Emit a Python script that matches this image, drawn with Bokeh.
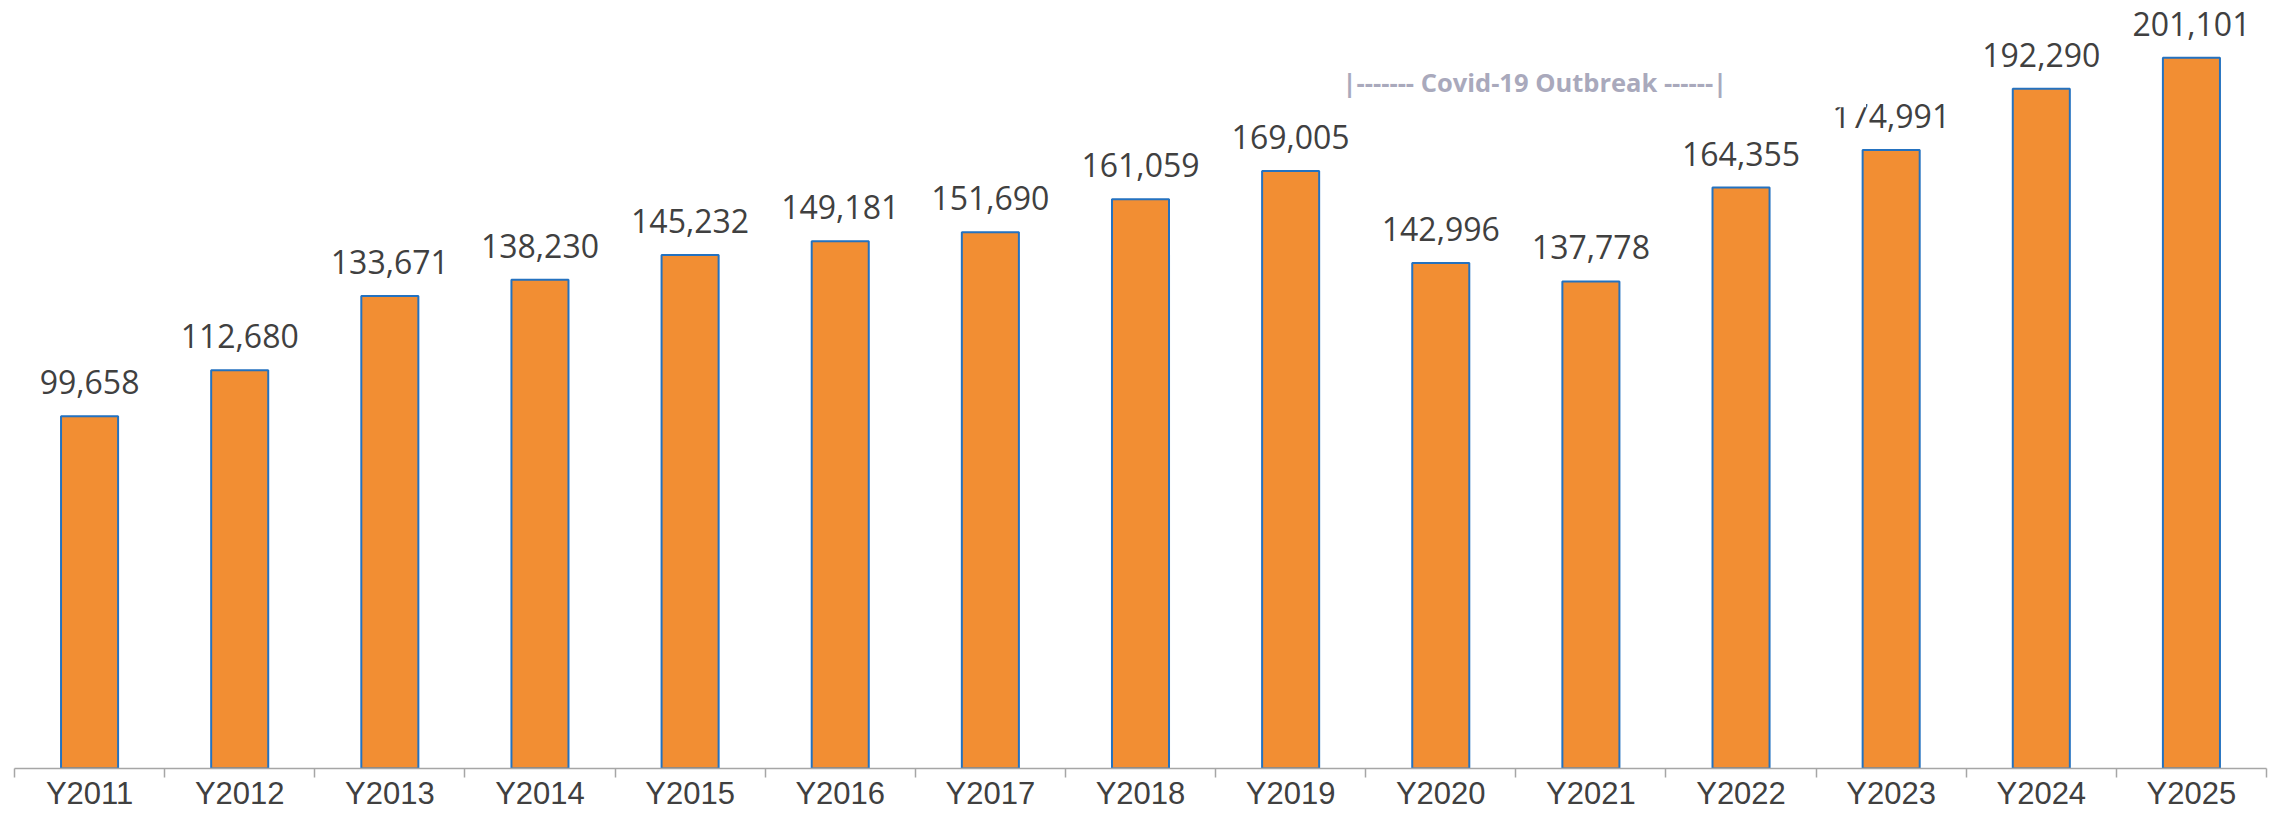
from bokeh.plotting import figure
from bokeh.models import (ColumnDataSource, LabelSet, Label, LinearAxis,
                          FixedTicker, Range1d, BoxAnnotation)
from bokeh.core.properties import value
from bokeh.embed import file_html
from bokeh.resources import INLINE

# ---- data ----
years = ["Y2011", "Y2012", "Y2013", "Y2014", "Y2015", "Y2016", "Y2017", "Y2018",
         "Y2019", "Y2020", "Y2021", "Y2022", "Y2023", "Y2024", "Y2025"]
values = [99658, 112680, 133671, 138230, 145232, 149181, 151690, 161059,
          169005, 142996, 137778, 164355, 174991, 192290, 201101]
value_labels = [f"{v:,}" for v in values]
covid_text = "|------- Covid-19 Outbreak ------|"

# ---- style ----
BAR_FILL = "#F28E33"
BAR_LINE = "#2472C0"
TEXT_COL = "#404040"
AXIS_COL = "#A6A6A6"
COVID_COL = "#A9A9BC"

n = len(years)
centers = [i + 0.5 for i in range(n)]
bounds = [float(i) for i in range(n + 1)]

src = ColumnDataSource(dict(x=centers, top=values, label=value_labels))

p = figure(width=2282, height=813,
           x_range=Range1d(0, n), y_range=Range1d(0, 215000),
           x_axis_type=None, y_axis_type=None,
           toolbar_location=None, output_backend="svg",
           min_border_left=14, min_border_right=16,
           min_border_top=8, min_border_bottom=0)
p.outline_line_color = None
p.background_fill_color = "white"
p.border_fill_color = "white"

p.vbar(x="x", top="top", width=0.38, bottom=0, source=src,
       fill_color=BAR_FILL, line_color=BAR_LINE, line_width=2)

labels = LabelSet(x="x", y="top", text="label", source=src,
                  text_align="center", text_baseline="alphabetic",
                  y_offset=22, text_font=value("Open Sans"),
                  text_font_size="32px", text_color=TEXT_COL)
p.add_layout(labels)

# white text-box of the annotation (it hides the top of a nearby label, as in the source)
covid_box = BoxAnnotation(left=8.846, right=12.333, bottom=187070, top=199200,
                          fill_color="white", fill_alpha=1.0, line_color=None)
p.add_layout(covid_box)

covid = Label(x=8.846, y=194100, text=covid_text,
              text_font="Open Sans", text_font_style="bold",
              text_font_size="25.5px", text_color=COVID_COL,
              text_align="left", text_baseline="alphabetic")
p.add_layout(covid)

xaxis = LinearAxis(
    ticker=FixedTicker(ticks=centers, minor_ticks=bounds),
    major_label_overrides={c: y for c, y in zip(centers, years)},
    major_tick_line_color=None, major_tick_out=9, major_tick_in=0,
    minor_tick_out=9, minor_tick_in=0, minor_tick_line_color=AXIS_COL,
    minor_tick_line_width=1.5,
    axis_line_color=AXIS_COL, axis_line_width=1.5,
    major_label_standoff=-2,
    major_label_text_font="Liberation Sans",
    major_label_text_font_size="31px",
    major_label_text_color=TEXT_COL,
)
p.add_layout(xaxis, "below")

open("out.html", "w").write(file_html(p, INLINE))
